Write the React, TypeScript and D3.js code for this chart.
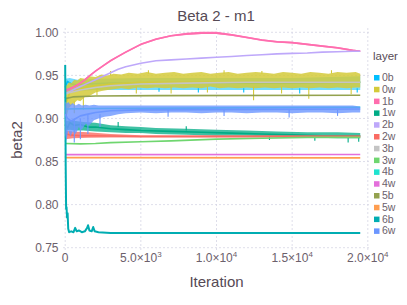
import React from 'react';
import * as d3 from 'd3';

// ---------- data ----------
const layers = ['0b', '0w', '1b', '1w', '2b', '2w', '3b', '3w', '4b', '4w', '5b', '5w', '6b', '6w'];
const layerColors = ['#00BFFF', '#D4CA3A', '#FF6DAE', '#00AC86', '#BEA8FA', '#FA6B63', '#C4C4C4', '#6FD66F', '#1EE3CF', '#E46FDB', '#94A24F', '#FF9E50', '#00ADB2', '#6C96FF'];

const xTicks = [0, 5000, 10000, 15000, 20000];
const xTickMant = ['0', '5.0×10', '1.0×10', '1.5×10', '2.0×10'];
const xTickExp = ['', '3', '4', '4', '4'];
const yTicks = [0.75, 0.8, 0.85, 0.9, 0.95, 1.0];
const yTickLabels = ['0.75', '0.80', '0.85', '0.90', '0.95', '1.00'];

// [iteration, value]
const line0b: [number, number][] = [[0, 0.936], [150, 0.943], [400, 0.94], [800, 0.939], [1500, 0.94], [3000, 0.941], [6000, 0.941], [10000, 0.941], [15000, 0.941], [19500, 0.942]];
const line0w: [number, number][] = [[0, 0.925], [100, 0.92], [300, 0.93], [600, 0.932], [1000, 0.934], [1500, 0.937], [2000, 0.938], [3000, 0.94], [5000, 0.942], [10000, 0.942], [15000, 0.942], [19500, 0.942]];
const line1b: [number, number][] = [[0, 0.932], [150, 0.933], [300, 0.934], [500, 0.936], [750, 0.938], [1000, 0.941], [1250, 0.944], [1500, 0.948], [2000, 0.955], [2500, 0.961], [3000, 0.967], [3500, 0.972], [4000, 0.977], [5000, 0.986], [6000, 0.992], [7000, 0.996], [8000, 0.998], [9000, 0.999], [10000, 0.999], [11000, 0.997], [12000, 0.994], [13000, 0.991], [14000, 0.989], [15000, 0.988], [16000, 0.986], [17000, 0.984], [18000, 0.982], [19000, 0.979], [19500, 0.978]];
const line1w: [number, number][] = [[0, 0.893], [150, 0.889], [300, 0.895], [600, 0.892], [1000, 0.893], [1500, 0.89], [2000, 0.89], [3000, 0.888], [4000, 0.887], [5000, 0.886], [7000, 0.885], [9000, 0.884], [11000, 0.883], [13000, 0.882], [15000, 0.881], [17000, 0.88], [19500, 0.88]];
const line2b: [number, number][] = [[0, 0.929], [150, 0.93], [300, 0.931], [500, 0.933], [750, 0.935], [1000, 0.937], [1250, 0.939], [1500, 0.941], [2000, 0.945], [2500, 0.949], [3000, 0.953], [3500, 0.957], [4000, 0.96], [5000, 0.964], [6000, 0.967], [7000, 0.968], [8000, 0.969], [9000, 0.97], [10000, 0.971], [11000, 0.972], [12000, 0.973], [13000, 0.974], [14000, 0.975], [15000, 0.9755], [16000, 0.976], [17000, 0.977], [18000, 0.9775], [19000, 0.978], [19500, 0.978]];
const line2w: [number, number][] = [[0, 0.882], [300, 0.881], [1000, 0.88], [2000, 0.88], [5000, 0.879], [19500, 0.879]];
const line3b: [number, number][] = [[0, 0.928], [300, 0.93], [1000, 0.933], [2000, 0.936], [3000, 0.938], [5000, 0.94], [8000, 0.941], [12000, 0.942], [19500, 0.942]];
const line3w: [number, number][] = [[0, 0.871], [1000, 0.8705], [2000, 0.871], [3000, 0.872], [5000, 0.873], [7000, 0.874], [10000, 0.876], [13000, 0.877], [16000, 0.878], [19500, 0.878]];
const line4b: [number, number][] = [[0, 0.911], [2000, 0.9115], [8000, 0.912], [19500, 0.913]];
const line4w: [number, number][] = [[0, 0.858], [19500, 0.8582]];
const line5b: [number, number][] = [[0, 0.923], [500, 0.925], [2000, 0.926], [6000, 0.9265], [19500, 0.927]];
const line5w: [number, number][] = [[0, 0.8545], [19500, 0.8543]];
const line6b: [number, number][] = [[0, 0.962], [30, 0.85], [60, 0.795], [90, 0.797], [120, 0.785], [160, 0.79], [200, 0.772], [260, 0.768], [400, 0.769], [550, 0.768], [660, 0.773], [760, 0.769], [900, 0.77], [1100, 0.768], [1300, 0.769], [1450, 0.773], [1510, 0.776], [1600, 0.77], [1750, 0.769], [1850, 0.774], [1950, 0.769], [2200, 0.768], [3000, 0.767], [19500, 0.767]];
const line6w: [number, number][] = [[0, 0.905], [150, 0.9], [400, 0.897], [700, 0.9], [1000, 0.903], [1500, 0.905], [2000, 0.907], [3000, 0.909], [5000, 0.91], [19500, 0.911]];

// noise envelopes [iteration, low, high]
const band0b: [number, number, number][] = [[0, 0.93, 0.946], [300, 0.932, 0.947], [800, 0.932, 0.945], [2000, 0.933, 0.946], [5000, 0.933, 0.947], [10000, 0.933, 0.947], [15000, 0.933, 0.947], [19500, 0.933, 0.949]];
const band0w: [number, number, number][] = [[0, 0.905, 0.94], [100, 0.903, 0.938], [250, 0.912, 0.942], [400, 0.915, 0.941], [600, 0.918, 0.945], [800, 0.921, 0.944], [1000, 0.92, 0.947], [1300, 0.925, 0.946], [1600, 0.926, 0.949], [2000, 0.93, 0.948], [2400, 0.932, 0.951], [2800, 0.933, 0.95], [3200, 0.934, 0.952], [3700, 0.935, 0.951], [4200, 0.934, 0.953], [4800, 0.936, 0.952], [5400, 0.935, 0.954], [6000, 0.936, 0.952], [6600, 0.935, 0.953], [7200, 0.936, 0.954], [7800, 0.935, 0.952], [8400, 0.936, 0.953], [9000, 0.935, 0.954], [9600, 0.937, 0.952], [10200, 0.935, 0.953], [10800, 0.936, 0.954], [11400, 0.935, 0.952], [12000, 0.936, 0.953], [12600, 0.935, 0.954], [13200, 0.936, 0.953], [13800, 0.935, 0.952], [14400, 0.936, 0.954], [15000, 0.935, 0.953], [15600, 0.936, 0.952], [16200, 0.935, 0.954], [16800, 0.936, 0.953], [17400, 0.935, 0.952], [18000, 0.936, 0.954], [18600, 0.935, 0.953], [19200, 0.936, 0.954], [19500, 0.936, 0.952]];
const band1b: [number, number, number][] = [[0, 0.931, 0.934], [500, 0.935, 0.937], [1000, 0.94, 0.942], [1500, 0.947, 0.949], [2000, 0.954, 0.956], [3000, 0.966, 0.968], [4000, 0.976, 0.978], [5000, 0.985, 0.987], [6000, 0.991, 0.993], [7000, 0.995, 0.997], [8000, 0.997, 0.9995], [9000, 0.998, 1.0005], [10000, 0.998, 1.0005], [11000, 0.996, 0.998], [12000, 0.993, 0.995], [13000, 0.99, 0.992], [14000, 0.988, 0.99], [15000, 0.987, 0.989], [16000, 0.985, 0.987], [17000, 0.983, 0.985], [18000, 0.981, 0.983], [19000, 0.978, 0.98], [19500, 0.977, 0.979]];
const band1w: [number, number, number][] = [[0, 0.886, 0.897], [300, 0.887, 0.898], [700, 0.886, 0.897], [1200, 0.886, 0.896], [2000, 0.885, 0.895], [3000, 0.884, 0.892], [4000, 0.883, 0.891], [5000, 0.883, 0.89], [6000, 0.882, 0.889], [8000, 0.881, 0.888], [10000, 0.88, 0.887], [12000, 0.88, 0.886], [14000, 0.879, 0.885], [16000, 0.878, 0.884], [18000, 0.877, 0.884], [19500, 0.877, 0.883]];
const band2w: [number, number, number][] = [[0, 0.876, 0.886], [500, 0.877, 0.885], [1500, 0.8775, 0.884], [3000, 0.878, 0.882], [5000, 0.878, 0.8805], [19500, 0.878, 0.8805]];
const band6w: [number, number, number][] = [[0, 0.882, 0.92], [80, 0.874, 0.917], [200, 0.886, 0.919], [350, 0.879, 0.916], [500, 0.885, 0.918], [700, 0.882, 0.915], [900, 0.89, 0.917], [1100, 0.887, 0.915], [1350, 0.894, 0.916], [1600, 0.892, 0.915], [1900, 0.898, 0.916], [2200, 0.9, 0.915], [2600, 0.902, 0.915], [3000, 0.903, 0.915], [3500, 0.905, 0.915], [4000, 0.906, 0.915], [5000, 0.907, 0.915], [6000, 0.906, 0.915], [7000, 0.907, 0.915], [8000, 0.907, 0.915], [9000, 0.906, 0.915], [10000, 0.907, 0.915], [11000, 0.907, 0.915], [12000, 0.906, 0.915], [13000, 0.907, 0.915], [14000, 0.907, 0.915], [15000, 0.906, 0.915], [16000, 0.907, 0.915], [17000, 0.907, 0.915], [18000, 0.906, 0.915], [19000, 0.907, 0.915], [19500, 0.907, 0.914]];

// isolated spikes [iteration, from, to]
const spikes0b: [number, number, number][] = [[6200, 0.935, 0.931], [8800, 0.935, 0.93], [11800, 0.935, 0.93], [15500, 0.935, 0.929], [19300, 0.935, 0.93]];
const spikes0w: [number, number, number][] = [[600, 0.92, 0.906], [1200, 0.925, 0.91], [2100, 0.936, 0.927], [4700, 0.937, 0.929], [7000, 0.937, 0.929], [9400, 0.937, 0.93], [12450, 0.937, 0.921], [14300, 0.937, 0.929], [16100, 0.937, 0.923], [18900, 0.937, 0.928], [3000, 0.95, 0.955], [5500, 0.952, 0.956], [10500, 0.952, 0.956], [13000, 0.952, 0.955], [17600, 0.952, 0.956]];
const spikes1w: [number, number, number][] = [[3500, 0.89, 0.896], [8000, 0.886, 0.891], [13500, 0.88, 0.875], [16500, 0.879, 0.874], [18700, 0.878, 0.872], [19400, 0.878, 0.873]];
const spikes6w: [number, number, number][] = [[600, 0.9, 0.872], [1000, 0.9, 0.876], [1500, 0.905, 0.882], [2300, 0.905, 0.89], [6800, 0.91, 0.902], [10500, 0.91, 0.903], [14800, 0.91, 0.901], [18000, 0.91, 0.903]];

const seriesLines = [line0b, line0w, line1b, line1w, line2b, line2w, line3b, line3w, line4b, line4w, line5b, line5w, line6b, line6w];
const seriesBands = [band0b, band0w, band1b, band1w, null, band2w, null, null, null, null, null, null, null, band6w];
const seriesSpikes = [spikes0b, spikes0w, null, spikes1w, null, null, null, null, null, null, null, null, null, spikes6w];
const bandOpacity = [0.55, 0.85, 0.9, 0.75, 0, 0.8, 0, 0, 0, 0, 0, 0, 0, 0.8];

// ---------- layout ----------
const W = 407, H = 305;
const FONT = "'Liberation Sans', Arial, sans-serif";
const x = d3.scaleLinear().domain([0, 20000]).range([65.2, 367.8]);
const y = d3.scaleLinear().domain([0.75, 1.0]).range([247.7, 32.3]);
const plotL = 63, plotR = 371, plotT = 28, plotB = 251;

export default function App() {
  const lineGen = d3.line<[number, number]>().x(d => x(d[0])).y(d => y(d[1]));
  const areaGen = d3.area<[number, number, number]>().x(d => x(d[0])).y0(d => y(d[1])).y1(d => y(d[2]));

  return (
    <svg width={W} height={H} style={{ position: 'absolute', left: 0, top: 0, background: '#fff' }} fontFamily={FONT}>
      {/* grid */}
      <g stroke="#D6D6E4" strokeWidth={0.8} strokeDasharray="2,2" fill="none">
        {yTicks.map(t => <line key={'gy' + t} x1={plotL} x2={plotR} y1={y(t)} y2={y(t)} />)}
        {xTicks.map(t => <line key={'gx' + t} x1={x(t)} x2={x(t)} y1={plotT} y2={plotB} />)}
      </g>
      {/* y tick labels */}
      <g fill="#6C606B" fontSize={12} textAnchor="end">
        {yTicks.map((t, i) => <text key={'yl' + t} x={58.5} y={y(t) + 4.2}>{yTickLabels[i]}</text>)}
      </g>
      {/* x tick labels */}
      <g fill="#6C606B" fontSize={12} textAnchor="middle">
        {xTicks.map((t, i) => (
          <text key={'xl' + t} x={x(t)} y={261.5}>
            {xTickMant[i]}
            {xTickExp[i] && <tspan fontSize={8} dy={-5}>{xTickExp[i]}</tspan>}
          </text>
        ))}
      </g>
      {/* data */}
      <g>
        {layers.map((name, i) => {
          const c = layerColors[i];
          const band = seriesBands[i];
          const spikes = seriesSpikes[i];
          return (
            <g key={name}>
              {band && <path d={areaGen(band) || ''} fill={c} fillOpacity={bandOpacity[i]} stroke="none" />}
              {spikes && spikes.map((s, k) => (
                <line key={k} x1={x(s[0])} x2={x(s[0])} y1={y(s[1])} y2={y(s[2])} stroke={c} strokeWidth={1.1} />
              ))}
              <path d={lineGen(seriesLines[i]) || ''} fill="none" stroke={c} strokeWidth={name === '6b' ? 2 : 1.6} strokeLinejoin="round" />
            </g>
          );
        })}
      </g>
      {/* title & axis labels */}
      <text x={216} y={21} textAnchor="middle" fontSize={15} fill="#564A55">Beta 2 - m1</text>
      <text x={216.5} y={286.5} textAnchor="middle" fontSize={15} fill="#564A55">Iteration</text>
      <text transform={`translate(21.5,140) rotate(-90)`} textAnchor="middle" fontSize={15} fill="#564A55">beta2</text>
      {/* legend */}
      <text x={373} y={59.5} fontSize={11.5} fill="#564A55">layer</text>
      {layers.map((name, i) => (
        <g key={'lg' + name} transform={`translate(0,${75 + i * 11.8})`}>
          <rect x={374} y={0} width={5.5} height={5.5} fill={layerColors[i]} />
          <text x={382} y={6} fontSize={10.5} fill="#6C606B">{name}</text>
        </g>
      ))}
    </svg>
  );
}
